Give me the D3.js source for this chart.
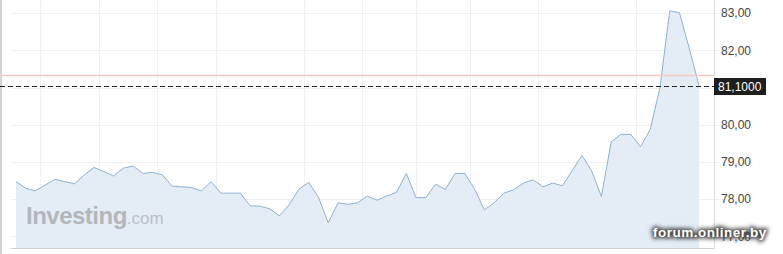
<!DOCTYPE html>
<html>
<head>
<meta charset="utf-8">
<script src="https://cdn.jsdelivr.net/npm/d3@7"></script>
<style>
  html, body { margin: 0; padding: 0; background: #fff; }
  svg { display: block; }
</style>
</head>
<body>
<svg id="chart"></svg>
<script>
// price closes, one per session
var prices = [
  78.47, 78.29, 78.22, 78.38, 78.53, 78.47, 78.41, 78.65, 78.85, 78.74,
  78.62, 78.83, 78.89, 78.69, 78.72, 78.65, 78.35, 78.33, 78.31, 78.22,
  78.47, 78.16, 78.16, 78.16, 77.82, 77.81, 77.74, 77.55, 77.85, 78.27,
  78.45, 78.05, 77.36, 77.90, 77.86, 77.90, 78.08, 77.97, 78.08, 78.18,
  78.69, 78.04, 78.04, 78.40, 78.26, 78.69, 78.69, 78.27, 77.71, 77.90,
  78.16, 78.25, 78.43, 78.52, 78.33, 78.43, 78.36, 78.76, 79.17, 78.76,
  78.07, 79.54, 79.74, 79.74, 79.41, 79.87, 81.00, 83.06, 83.01, 82.05,
  81.05
];
var yTicks = [77, 78, 79, 80, 81, 82, 83];
// 81,00 sits under the last-price box, so it gets no label
var yLabelTicks = [77, 78, 79, 80, 82, 83];
// vertical grid positions, in session index
var xGrid = [2.5, 8.5, 14.5, 20.5, 29.5, 35.5, 41, 46.5, 53.5, 63.5];
var lastLabel = "81,1000";
var refLevel = 81.32;

var svgWidth = 783, svgHeight = 254;
var plotLeft = 11, plotRight = 714, plotBottom = 248;

var svg = d3.select("#chart")
    .attr("width", svgWidth)
    .attr("height", svgHeight);

//scales
var x = d3.scaleLinear().domain([0, prices.length - 1]).range([16, 699]);
var y = d3.scaleLinear().domain([77, 83]).range([236.3, 13.1]);

// left frame
svg.append("line")
    .attr("x1", 1).attr("x2", 1)
    .attr("y1", 0).attr("y2", svgHeight)
    .attr("stroke", "#d4d4d4")
    .attr("stroke-width", 2);

// grid
svg.append("g")
    .selectAll("line")
    .data(yTicks)
    .join("line")
    .attr("x1", plotLeft).attr("x2", plotRight + 5)
    .attr("y1", function (d) { return Math.round(y(d)) + 0.5; })
    .attr("y2", function (d) { return Math.round(y(d)) + 0.5; })
    .attr("stroke", "#efefef");

svg.append("g")
    .selectAll("line")
    .data(xGrid)
    .join("line")
    .attr("x1", function (d) { return Math.round(x(d)) + 0.5; })
    .attr("x2", function (d) { return Math.round(x(d)) + 0.5; })
    .attr("y1", 0).attr("y2", plotBottom)
    .attr("stroke", "#f0f0f0");

// area + line
var area = d3.area()
    .x(function (d, i) { return x(i); })
    .y0(plotBottom)
    .y1(function (d) { return y(d); });

var line = d3.line()
    .x(function (d, i) { return x(i); })
    .y(function (d) { return y(d); });

svg.append("path")
    .datum(prices)
    .attr("fill", "#e4edf6")
    .attr("d", area);

svg.append("path")
    .datum(prices)
    .attr("fill", "none")
    .attr("stroke", "#8fb1d2")
    .attr("stroke-width", 1)
    .attr("stroke-linejoin", "round")
    .attr("d", line);

// watermark
var wm = svg.append("text")
    .attr("x", 26)
    .attr("y", 224)
    .attr("fill", "#b3b6bb")
    .attr("font-family", "Liberation Sans, Arial, sans-serif");
wm.append("tspan")
    .attr("font-size", 24)
    .attr("font-weight", "bold")
    .attr("letter-spacing", -0.5)
    .text("Investing");
wm.append("tspan")
    .attr("font-size", 17)
    .attr("fill", "#bdc0c4")
    .text(".com");

// axes frame
svg.append("line")
    .attr("x1", plotLeft).attr("x2", plotRight + 0.5)
    .attr("y1", plotBottom + 0.5).attr("y2", plotBottom + 0.5)
    .attr("stroke", "#cfcfcf");
svg.append("line")
    .attr("x1", plotRight + 0.5).attr("x2", plotRight + 0.5)
    .attr("y1", 0).attr("y2", plotBottom)
    .attr("stroke", "#dcdcdc");

//y-scale on the right
var yAxis = svg.append("g")
    .attr("transform", "translate(" + plotRight + ",0)")
    .call(d3.axisRight(y)
        .tickValues(yLabelTicks)
        .tickSize(5)
        .tickPadding(2)
        .tickFormat(function (d) { return d3.format(".2f")(d).replace(".", ","); }));
yAxis.select(".domain").remove();
yAxis.selectAll(".tick line").remove();
yAxis.selectAll("text")
    .attr("fill", "#444")
    .attr("font-size", 12)
    .attr("font-family", "Liberation Sans, Arial, sans-serif");

// reference level
svg.append("line")
    .attr("x1", 0).attr("x2", plotRight)
    .attr("y1", y(refLevel)).attr("y2", y(refLevel))
    .attr("stroke", "#f3c9c2")
    .attr("stroke-width", 1.5);

// last price line
var lastY = Math.round(y(prices[prices.length - 1])) + 0.5;
svg.append("line")
    .attr("x1", 0).attr("x2", plotRight)
    .attr("y1", lastY).attr("y2", lastY)
    .attr("stroke", "#222")
    .attr("stroke-dasharray", "5,3");

svg.append("rect")
    .attr("x", plotRight)
    .attr("y", lastY - 8.5)
    .attr("width", 52)
    .attr("height", 17)
    .attr("fill", "#1e1e1e");
svg.append("text")
    .attr("x", plotRight + 4)
    .attr("y", lastY + 4)
    .attr("fill", "#fff")
    .attr("font-size", 12)
    .attr("font-family", "Liberation Sans, Arial, sans-serif")
    .text(lastLabel);

// forum watermark
var defs = svg.append("defs");
defs.append("filter")
    .attr("id", "blur")
    .attr("x", "-20%").attr("y", "-50%")
    .attr("width", "140%").attr("height", "200%")
    .append("feGaussianBlur")
    .attr("stdDeviation", 2);

var fx = 653, fy = 237;
svg.append("text")
    .attr("x", fx).attr("y", fy)
    .attr("font-size", 13.5)
    .attr("font-weight", "bold")
    .attr("letter-spacing", 0.5)
    .attr("font-family", "Liberation Sans, Arial, sans-serif")
    .attr("fill", "#4a4a4a")
    .attr("stroke", "#4a4a4a")
    .attr("stroke-width", 3.5)
    .attr("filter", "url(#blur)")
    .text("forum.onliner.by");
svg.append("text")
    .attr("x", fx).attr("y", fy)
    .attr("font-size", 13.5)
    .attr("font-weight", "bold")
    .attr("letter-spacing", 0.5)
    .attr("font-family", "Liberation Sans, Arial, sans-serif")
    .attr("fill", "#fff")
    .text("forum.onliner.by");
</script>
</body>
</html>
